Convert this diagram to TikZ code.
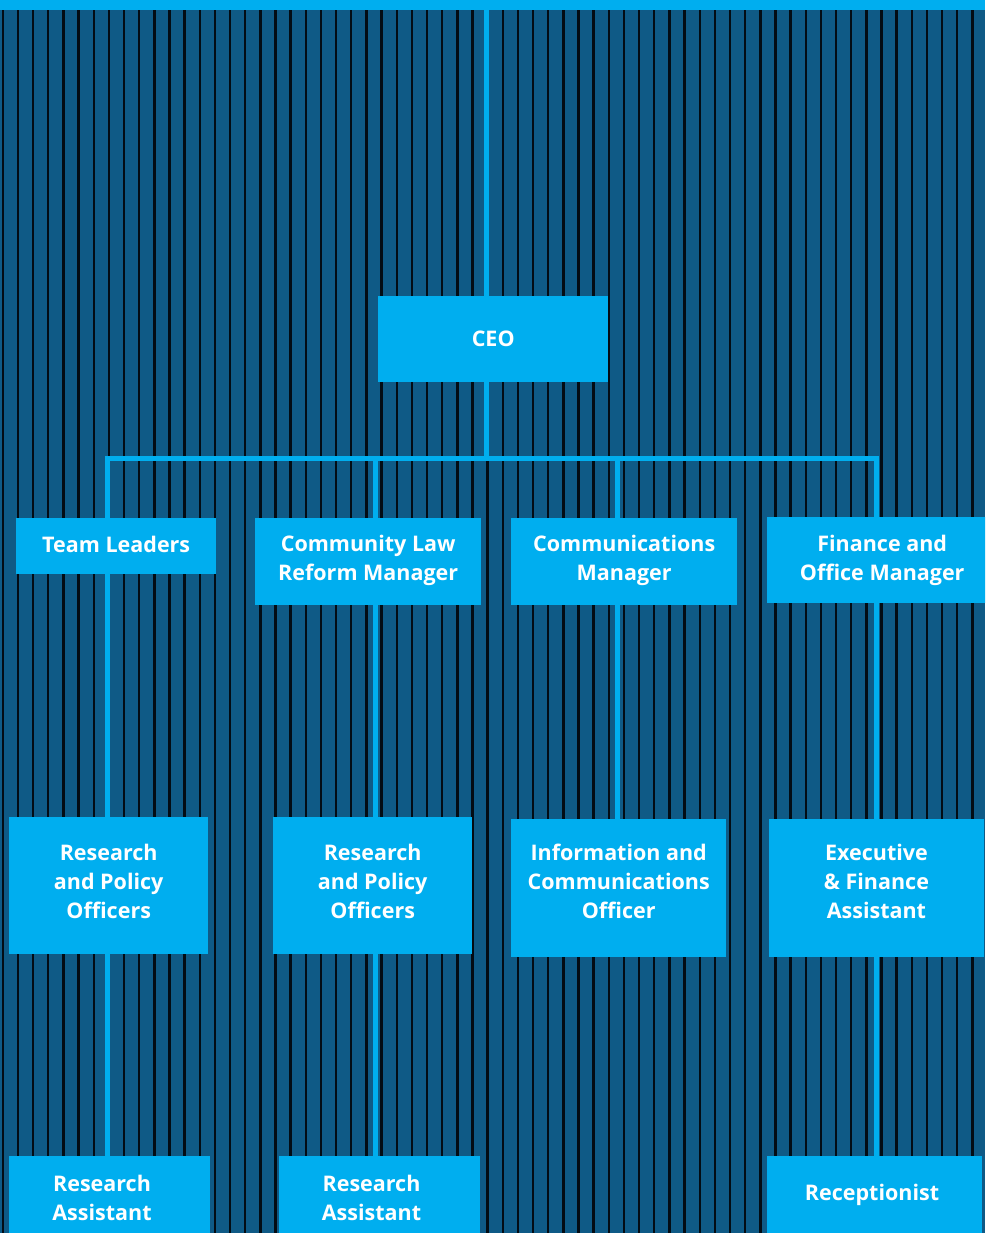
\documentclass[tikz,border=0pt]{standalone}
\usepackage{fontspec}
\setmainfont{Open Sans}
\definecolor{cyanbox}{RGB}{0,174,239}
\definecolor{darkbg}{RGB}{15,90,134}
\definecolor{stripe}{RGB}{3,12,20}
\begin{document}
\begin{tikzpicture}[x=1pt,y=-1pt,
  box/.style={fill=cyanbox, draw=none, anchor=north west, inner sep=0pt},
  txt/.style={text=white, align=center, inner sep=0pt, font=\bfseries\fontsize{21.5}{29}\selectfont},
  conn/.style={draw=cyanbox, line width=5pt, line cap=rect}]
\useasboundingbox (0,0) rectangle (985,1233);
\clip (0,0) rectangle (985,1233);
% background
\fill[darkbg] (0,0) rectangle (985,1233);
\foreach \i in {0,...,64}{
  \fill[stripe] ({2.8+15.15*\i-1.2},0) rectangle ++(2.4,1233);
}
\fill[cyanbox] (0,0) rectangle (985,10);
% column coordinates
\coordinate (vC) at (486.5,5);
\coordinate (vL) at (107.5,0);
\coordinate (vM) at (375.5,0);
\coordinate (vK) at (617.5,0);
\coordinate (vF) at (876.5,0);
\coordinate (barL) at (107.5,458.2);
\coordinate (barR) at (876.5,458.2);
% boxes
\node[box, minimum width=230, minimum height=86] (ceo) at (378,296) {};
\node[box, minimum width=200, minimum height=55.5] (tl) at (16,518) {};
\node[box, minimum width=226, minimum height=86.5] (clr) at (255,518) {};
\node[box, minimum width=226, minimum height=86.5] (cm) at (511,518) {};
\node[box, minimum width=230, minimum height=85.5] (fom) at (767,517) {};
\node[box, minimum width=199, minimum height=137] (rp1) at (9,817) {};
\node[box, minimum width=199, minimum height=137] (rp2) at (273,817) {};
\node[box, minimum width=215, minimum height=138] (ico) at (511,819) {};
\node[box, minimum width=214.5, minimum height=138] (efa) at (769,819) {};
\node[box, minimum width=201, minimum height=86] (ra1) at (9,1156) {};
\node[box, minimum width=201, minimum height=86] (ra2) at (279,1156) {};
\node[box, minimum width=215, minimum height=86] (rec) at (767,1156) {};
% texts
\node[txt] (ceot) at (ceo.center) {CEO};
\node[txt] (tlt) at ([yshift=1.5pt]tl.center) {Team Leaders};
\node[txt] (clrt) at ([yshift=1pt]clr.center) {Community Law\\Reform Manager};
\node[txt] (cmt) at ([yshift=1pt]cm.center) {Communications\\Manager};
\node[txt] (fomt) at (fom.center) {Finance and\\Office Manager};
\node[txt] (rp1t) at ([yshift=4pt]rp1.center) {Research\\and Policy\\Officers};
\node[txt] (rp2t) at ([yshift=4pt]rp2.center) {Research\\and Policy\\Officers};
\node[txt] (icot) at ([yshift=7pt]ico.center) {Information and\\Communications\\Officer};
\node[txt] (efat) at ([yshift=7pt]efa.center) {Executive\\\& Finance\\Assistant};
\node[txt] (ra1t) at (102,1197.5) {Research\\Assistant};
\node[txt] (ra2t) at (371.5,1197.5) {Research\\Assistant};
\node[txt] (rect) at (872,1195) {Receptionist};
% connectors
\draw[conn] (vC) -- (vC |- ceo.north);
\draw[conn] (ceo.south -| vC) -- (vC |- barL);
\draw[conn] (barL) -- (barR);
\draw[conn] (barL) -- (vL |- tl.north);
\draw[conn] (barL -| vM) -- (vM |- clr.north);
\draw[conn] (barL -| vK) -- (vK |- cm.north);
\draw[conn] (barR) -- (vF |- fom.north);
\draw[conn] (vL |- tl.south) -- (vL |- rp1.north);
\draw[conn] (vL |- rp1.south) -- (vL |- ra1.north);
\draw[conn] (vM |- clr.south) -- (vM |- rp2.north);
\draw[conn] (vM |- rp2.south) -- (vM |- ra2.north);
\draw[conn] (vK |- cm.south) -- (vK |- ico.north);
\draw[conn] (vF |- fom.south) -- (vF |- efa.north);
\draw[conn] (vF |- efa.south) -- (vF |- rec.north);
\end{tikzpicture}
\end{document}
